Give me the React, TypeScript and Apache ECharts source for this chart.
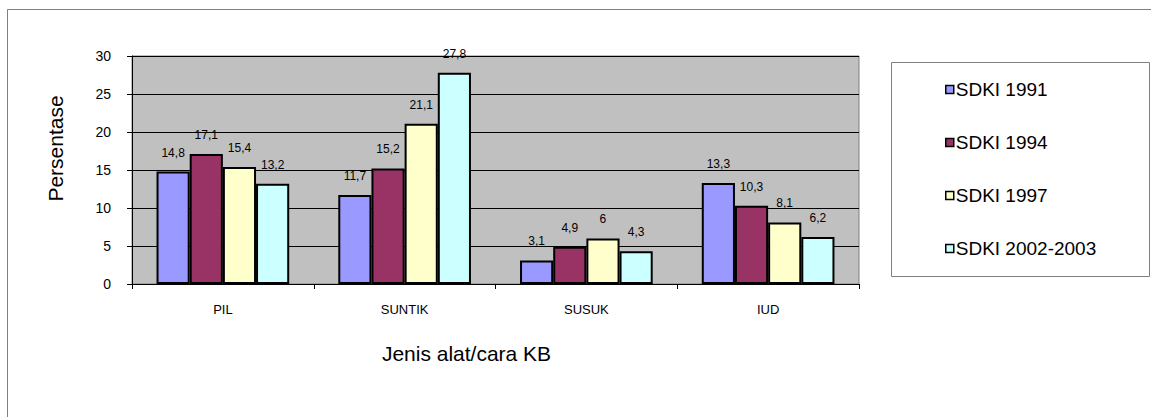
import React, { useEffect, useRef } from "react";
import * as echarts from "echarts";

const categories = ["PIL", "SUNTIK", "SUSUK", "IUD"];
const seriesNames = ["SDKI 1991", "SDKI 1994", "SDKI 1997", "SDKI 2002-2003"];
const sdki1991 = [14.8, 11.7, 3.1, 13.3];
const sdki1994 = [17.1, 15.2, 4.9, 10.3];
const sdki1997 = [15.4, 21.1, 6, 8.1];
const sdki2002 = [13.2, 27.8, 4.3, 6.2];
const yTicks = [0, 5, 10, 15, 20, 25, 30];
const colors = ["#9999FF", "#993366", "#FFFFCC", "#CCFFFF"];

const FONT = "Arial, 'Liberation Sans', sans-serif";

export default function App() {
  const ref = useRef<HTMLDivElement>(null);
  useEffect(() => {
    document.body.style.margin = "0";
    const chart = echarts.init(ref.current!, null, { renderer: "svg" });
    const values = [sdki1991, sdki1994, sdki1997, sdki2002];
    chart.setOption({
      animation: false,
      backgroundColor: "#ffffff",
      textStyle: { fontFamily: FONT },
      grid: {
        left: 132,
        top: 56,
        right: 292,
        bottom: 133,
        show: true,
        backgroundColor: "#C0C0C0",
        borderColor: "#808080",
        borderWidth: 1,
      },
      graphic: [
        {
          type: "rect",
          shape: { x: 7.5, y: 9.5, width: 1160, height: 430 },
          style: { fill: "none", stroke: "#808080", lineWidth: 1 },
          silent: true,
        },
        {
          type: "rect",
          shape: { x: 891.5, y: 62.5, width: 258, height: 214 },
          style: { fill: "#ffffff", stroke: "#808080", lineWidth: 1 },
          silent: true,
          z: -1,
        },
      ],
      legend: {
        orient: "vertical",
        left: 940,
        top: 75,
        itemWidth: 8,
        itemHeight: 8,
        itemGap: 34,
        icon: "rect",
        data: seriesNames,
        textStyle: { fontFamily: FONT, fontSize: 19, color: "#000", padding: [0, 0, 0, -3] },
        itemStyle: { borderColor: "#000", borderWidth: 1.5 },
      },
      xAxis: {
        type: "category",
        data: categories,
        name: "Jenis alat/cara KB",
        nameLocation: "middle",
        nameGap: 59,
        nameTextStyle: { fontFamily: FONT, fontSize: 21, color: "#000", padding: [0, 58, 0, 0] },
        axisLine: { lineStyle: { color: "#000", width: 1 } },
        axisTick: { show: true, length: 5, lineStyle: { color: "#000" } },
        axisLabel: { fontFamily: FONT, fontSize: 13, color: "#000", margin: 19 },
        splitLine: { show: false },
      },
      yAxis: {
        type: "value",
        min: 0,
        max: 30,
        interval: 5,
        name: "Persentase",
        nameLocation: "middle",
        nameGap: 66,
        nameRotate: 90,
        nameTextStyle: { fontFamily: FONT, fontSize: 21, color: "#000", padding: [0, 0, 0, 43] },
        axisLine: { show: true, lineStyle: { color: "#000", width: 1 } },
        axisTick: { show: true, length: 5, lineStyle: { color: "#000" } },
        axisLabel: {
          fontFamily: FONT,
          fontSize: 14,
          color: "#000",
          margin: 21,
          formatter: (v: number) => (yTicks.includes(v) ? String(v) : ""),
        },
        splitLine: { show: true, lineStyle: { color: "#000", width: 1 } },
      },
      series: seriesNames.map((name, i) => ({
        name,
        type: "bar",
        data: values[i],
        barGap: "0%",
        barCategoryGap: "27%",
        itemStyle: { color: colors[i], borderColor: "#000", borderWidth: 2 },
        label: {
          show: true,
          position: "top",
          distance: 13,
          fontFamily: FONT,
          fontSize: 12,
          color: "#000",
          formatter: (p: any) => String(p.value).replace(".", ","),
        },
      })),
    });
    return () => chart.dispose();
  }, []);
  return <div ref={ref} style={{ width: 1151, height: 417 }} />;
}
